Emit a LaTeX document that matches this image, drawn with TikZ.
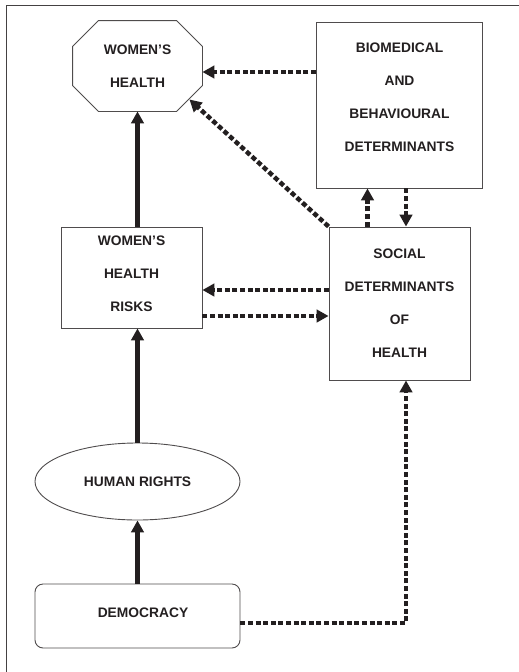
\documentclass[tikz,border=0pt]{standalone}
\usepackage{fontspec}
\setmainfont{Liberation Sans}
\usepackage{xcolor}
\usetikzlibrary{arrows.meta, shapes.geometric}
\definecolor{ink}{HTML}{231F20}
\tikzset{
    blk/.style={draw=ink!80, line width=0.9pt, inner sep=0pt, align=center,
        font=\fontsize{13.8pt}{33pt}\selectfont\bfseries, text=ink},
    oval/.style={blk, ellipse},
    roundbox/.style={blk, rounded corners=8pt},
    solid arrow/.style={-{Triangle[length=12pt, width=12.5pt]}, line width=4.5pt, draw=ink},
    dotted arrow/.style={-{Triangle[length=12pt, width=12.5pt]}, line width=4.5pt, draw=ink,
        dash pattern=on 5pt off 2.6pt}
}
\begin{document}
\begin{tikzpicture}[x=1pt, y=-1pt]
    \useasboundingbox (0,0) rectangle (519,672);
    \draw[line width=1pt, ink!85] (6,680) -- (6,5) -- (530,5);

    \node[blk, draw=none, minimum width=129pt, minimum height=90pt] (wh) at (137.5,66)
        {WOMEN'S\\HEALTH};
    \node[blk, minimum width=166pt, minimum height=166pt, text depth=16pt] (bio) at (399.5,105)
        {BIOMEDICAL\\AND\\BEHAVIOURAL\\DETERMINANTS};
    \node[blk, minimum width=141pt, minimum height=101pt, text depth=8pt] (whr) at (131.5,277.5)
        {WOMEN'S\\HEALTH\\RISKS};
    \node[blk, minimum width=141pt, minimum height=153pt] (sdh) at (399.5,303.5)
        {SOCIAL\\DETERMINANTS\\OF\\HEALTH};
    \node[oval, minimum width=205pt, minimum height=77pt] (hr) at (137.5,481.5)
        {HUMAN RIGHTS};
    \node[roundbox, minimum width=205pt, minimum height=64pt, text depth=6pt] (dem) at (137.5,616)
        {\hspace*{11pt}DEMOCRACY};

    % octagon round the top node
    \draw[ink!80, line width=0.9pt]
        ([xshift=26pt]wh.north west) -- ([xshift=-26pt]wh.north east)
        -- ([yshift=-26pt]wh.north east) -- ([yshift=26pt]wh.south east)
        -- ([xshift=-26pt]wh.south east) -- ([xshift=26pt]wh.south west)
        -- ([yshift=26pt]wh.south west) -- ([yshift=-26pt]wh.north west) -- cycle;

    % arrow end points
    \coordinate (whin) at ([yshift=-6pt]wh.east);
    \coordinate (whcut) at ([xshift=-13pt, yshift=12pt]wh.south east);
    \coordinate (whrin) at ([yshift=-12.5pt]whr.east);
    \coordinate (whrout) at ([yshift=-38.5pt]whr.east);
    \coordinate (bioin) at ([xshift=-32pt]sdh.north);
    \coordinate (bioout) at ([xshift=6.5pt]bio.south);
    \coordinate (demout) at ([yshift=-7pt]dem.east);

    % solid chain on the left
    \draw[solid arrow] (dem.north) -- (hr.south);
    \draw[solid arrow] (hr.north) -- (hr.north |- whr.south);
    \draw[solid arrow] (wh.south |- whr.north) -- (wh.south);

    % dotted links
    \draw[dotted arrow] (bio.west |- whin) -- (whin);
    \draw[dotted arrow] (sdh.north west) -- (whcut);
    \draw[dotted arrow] (bioin) -- (bioin |- bio.south);
    \draw[dotted arrow] (bioout) -- (bioout |- sdh.north);
    \draw[dotted arrow] (sdh.west |- whrin) -- (whrin);
    \draw[dotted arrow] (whrout) -- (sdh.west |- whrout);
    \draw[dotted arrow] (demout) -| (bioout |- sdh.south);
\end{tikzpicture}
\end{document}
